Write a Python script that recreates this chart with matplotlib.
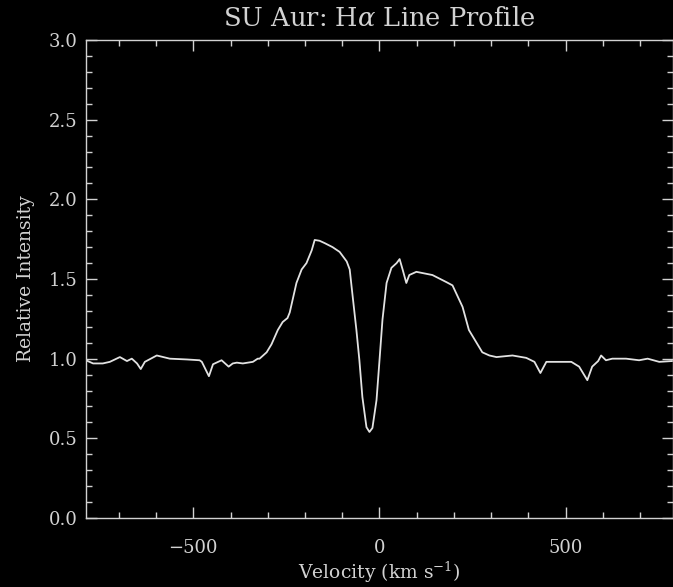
import matplotlib
matplotlib.use("Agg")
import matplotlib.pyplot as plt
from matplotlib.ticker import MultipleLocator

# H-alpha profile of SU Aur: velocity (km/s) and continuum-normalised intensity
velocity = [-788, -769, -743, -724, -697, -678, -665, -651, -641, -630,
            -598, -563, -517, -483, -477, -458, -447, -424, -405, -394,
            -383, -367, -340, -327, -322, -303, -290, -273, -260, -247,
            -241, -223, -209, -196, -182, -174, -161, -147, -126, -107,
            -88, -80, -72, -62, -54, -46, -35, -27, -19, -8,
            0, 8, 19, 32, 46, 54, 62, 72, 80, 99,
            142, 180, 196, 223, 240, 276, 295, 314, 357, 394,
            416, 432, 448, 483, 515, 536, 558, 571, 587, 595,
            608, 625, 662, 697, 720, 751, 785]
intensity = [0.99, 0.97, 0.97, 0.98, 1.01, 0.985, 1.00, 0.97, 0.935, 0.98,
             1.02, 1.00, 0.995, 0.99, 0.98, 0.89, 0.965, 0.99, 0.95, 0.97,
             0.975, 0.97, 0.98, 1.00, 1.00, 1.04, 1.09, 1.18, 1.23, 1.255,
             1.29, 1.475, 1.56, 1.60, 1.68, 1.745, 1.74, 1.725, 1.70, 1.67,
             1.61, 1.56, 1.39, 1.18, 0.99, 0.76, 0.57, 0.54, 0.565, 0.74,
             0.99, 1.245, 1.475, 1.57, 1.60, 1.625, 1.56, 1.475, 1.525, 1.545,
             1.525, 1.48, 1.46, 1.325, 1.18, 1.04, 1.02, 1.01, 1.02, 1.005,
             0.98, 0.91, 0.98, 0.98, 0.98, 0.95, 0.865, 0.95, 0.985, 1.02,
             0.99, 1.00, 1.00, 0.99, 1.00, 0.98, 0.985]

title = "SU Aur: H$\\alpha$ Line Profile"
xlabel = "Velocity (km s$^{-1}$)"
ylabel = "Relative Intensity"

fg = "#d2d2d2"
plt.rcParams["font.family"] = ["DejaVu Serif"]
plt.rcParams["mathtext.fontset"] = "dejavuserif"

fig = plt.figure(figsize=(6.73, 5.87), dpi=100, facecolor="black")
ax = fig.add_axes([86 / 673, 69 / 587, 587 / 673, 478 / 587], facecolor="black")

ax.plot(velocity, intensity, color="#e2e2e2", lw=1.3)

ax.set_xlim(-788, 788)
ax.set_ylim(0.0, 3.0)
ax.xaxis.set_major_locator(MultipleLocator(500))
ax.xaxis.set_minor_locator(MultipleLocator(100))
ax.yaxis.set_major_locator(MultipleLocator(0.5))
ax.yaxis.set_minor_locator(MultipleLocator(0.1))
ax.yaxis.set_major_formatter(matplotlib.ticker.FormatStrFormatter("%.1f"))

for s in ax.spines.values():
    s.set_color(fg)
    s.set_linewidth(1.0)

ax.tick_params(which="both", direction="in", colors=fg, top=True, right=True,
               labelsize=13, width=1.0)
ax.tick_params(which="major", length=8)
ax.tick_params(which="minor", length=4)
ax.tick_params(axis="x", which="major", pad=15)
ax.tick_params(axis="y", which="major", pad=6)

ax.set_title(title, color=fg, fontsize=18.5, pad=10)
ax.set_xlabel(xlabel, color=fg, fontsize=13.5, labelpad=2)
ax.set_ylabel(ylabel, color=fg, fontsize=13.5, labelpad=10)

fig.savefig("out.png", dpi=100, facecolor="black")
